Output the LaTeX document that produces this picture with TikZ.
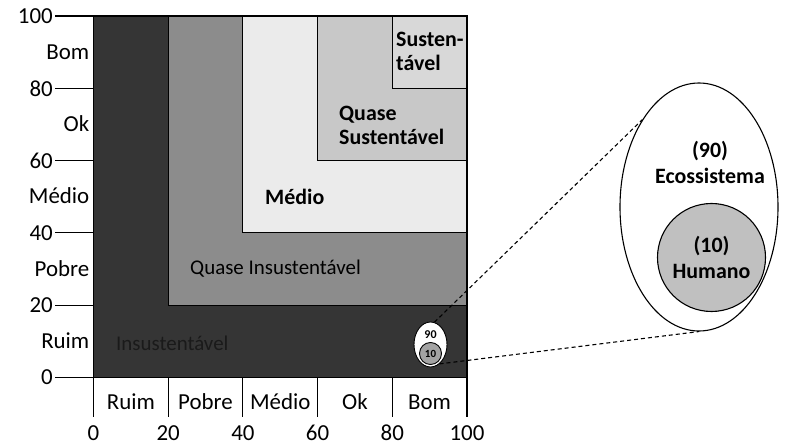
\documentclass[tikz,border=0pt]{standalone}
\usepackage{fontspec}
\setmainfont{Carlito}
\usetikzlibrary{shapes.geometric}
\definecolor{cInsust}{HTML}{353535}
\definecolor{cQInsust}{HTML}{8C8C8C}
\definecolor{cMedio}{HTML}{EBEBEB}
\definecolor{cQSust}{HTML}{C8C8C8}
\definecolor{cSust}{HTML}{D8D8D8}
\definecolor{cHum}{HTML}{C0C0C0}
\definecolor{cDarkText}{HTML}{1A1A1A}
\begin{document}
\begin{tikzpicture}[x=1bp,y=-1bp]
\tikzset{
  zone/.style={draw=black, line width=1.1bp},
  axisline/.style={line width=1.1bp},
  axlab/.style={font=\fontsize{23}{26}\selectfont, inner sep=0},
  inlab/.style={font=\fontsize{21}{24}\selectfont, inner sep=0, align=left},
  inbold/.style={font=\bfseries\fontsize{22}{24}\selectfont, inner sep=0, align=left},
  bublab/.style={font=\bfseries\fontsize{22}{26}\selectfont, inner sep=0, align=center},
  link/.style={dash pattern=on 4bp off 3bp, line width=1.1bp},
}
\useasboundingbox (0,0) rectangle (788,445);
% zones
\draw[zone, fill=cInsust] (93.5,16) rectangle (467,377.5);
\draw[zone, fill=cQInsust] (168.2,16) rectangle (467,305.2);
\draw[zone, fill=cMedio] (242.9,16) rectangle (467,232.9);
\draw[zone, fill=cQSust] (317.6,16) rectangle (467,160.6);
\draw[zone, fill=cSust] (392.3,16) rectangle (467,88.3);
% zone labels
\node[inbold, anchor=west] (lsust) at (396,51) {Susten-\\tável};
\node[inbold, anchor=west] (lqsust) at (339,125) {Quase\\Sustentável};
\node[inbold, anchor=west] (lmedio) at (265,197) {Médio};
\node[inlab, anchor=west] (lqinsust) at (190,269) {Quase Insustentável};
\node[inlab, anchor=west, text=cDarkText] (linsust) at (116,343) {Insustentável};
% left axis
\foreach \y/\v in {16/100,88.3/80,160.6/60,232.9/40,305.2/20,377.5/0}{
  \draw[axisline] (55,\y) -- (93.5,\y);
  \node[axlab, anchor=east] at (53,\y) {\v};
}
\foreach \y/\t in {52/Bom,124/Ok,196/Médio,269/Pobre,341/Ruim}{
  \node[axlab, anchor=east] at (89.5,\y) {\t};
}
% bottom axis
\foreach \x/\v in {93.5/0,168.2/20,242.9/40,317.6/60,392.3/80,467/100}{
  \draw[axisline] (\x,377.5) -- (\x,417);
  \node[axlab, anchor=base] at (\x,440) {\v};
}
\foreach \x/\t in {131/Ruim,205.5/Pobre,280.2/Médio,355/Ok,429.6/Bom}{
  \node[axlab, anchor=base] at (\x,409.5) {\t};
}
% small bubble
\node[draw, ellipse, fill=white, minimum width=33bp, minimum height=45bp, inner sep=0, line width=0.9bp] (small) at (430.5,344.5) {};
\node[font=\bfseries\fontsize{12}{12}\selectfont, inner sep=0] (s90) at (430.5,334.5) {90};
\node[draw, circle, fill=cHum!85!black, minimum size=22bp, inner sep=0, line width=0.9bp, font=\bfseries\fontsize{11}{11}\selectfont] (s10) at (430.5,353.5) {10};
% big bubble
\node[draw, ellipse, minimum width=158bp, minimum height=248bp, inner sep=0, line width=1.1bp] (big) at (699,207) {};
\node[bublab] (eco) at (710,162) {(90)\\Ecossistema};
\node[draw, circle, fill=cHum, minimum size=108bp, inner sep=0, line width=1.1bp] (hum) at (711.5,257.5) {};
\node[bublab] (humlab) at (711.5,257.5) {(10)\\Humano};
% zoom lines
\draw[link] (small.80) -- (big.123);
\draw[link] (small.-65) -- (big.south);
\end{tikzpicture}
\end{document}
